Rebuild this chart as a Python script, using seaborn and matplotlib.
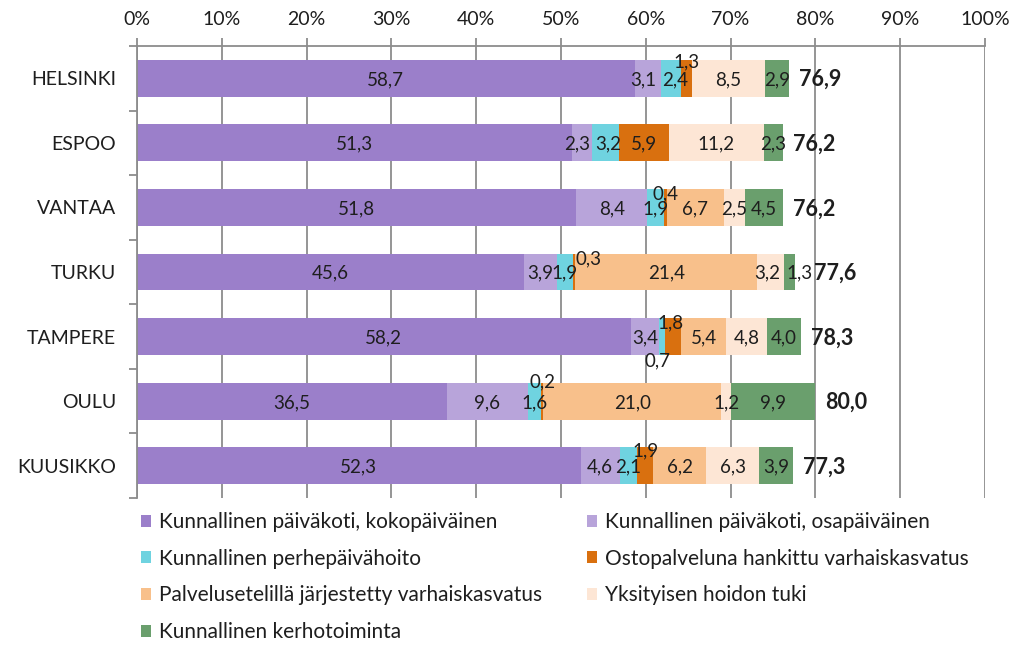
import numpy as np
import pandas as pd
import matplotlib
matplotlib.use("Agg")
import matplotlib.pyplot as plt
import seaborn as sns
from matplotlib.patches import Patch
from matplotlib.ticker import FixedLocator

# ---------------- data ----------------
cities = ["HELSINKI", "ESPOO", "VANTAA", "TURKU", "TAMPERE", "OULU", "KUUSIKKO"]
series_names = [
    "Kunnallinen päiväkoti, kokopäiväinen",
    "Kunnallinen päiväkoti, osapäiväinen",
    "Kunnallinen perhepäivähoito",
    "Ostopalveluna hankittu varhaiskasvatus",
    "Palvelusetelillä järjestetty varhaiskasvatus",
    "Yksityisen hoidon tuki",
    "Kunnallinen kerhotoiminta",
]
kokopaivainen = [58.7, 51.3, 51.8, 45.6, 58.2, 36.5, 52.3]
osapaivainen = [3.1, 2.3, 8.4, 3.9, 3.4, 9.6, 4.6]
perhepaivahoito = [2.4, 3.2, 1.9, 1.9, 0.7, 1.6, 2.1]
ostopalvelu = [1.3, 5.9, 0.4, 0.3, 1.8, 0.2, 1.9]
palveluseteli = [0.0, 0.0, 6.7, 21.4, 5.4, 21.0, 6.2]
yksityinen = [8.5, 11.2, 2.5, 3.2, 4.8, 1.2, 6.3]
kerhotoiminta = [2.9, 2.3, 4.5, 1.3, 4.0, 9.9, 3.9]
totals = [76.9, 76.2, 76.2, 77.6, 78.3, 80.0, 77.3]
tick_values = [0, 10, 20, 30, 40, 50, 60, 70, 80, 90, 100]
tick_labels = [f"{v}%" for v in tick_values]

series = [kokopaivainen, osapaivainen, perhepaivahoito, ostopalvelu,
          palveluseteli, yksityinen, kerhotoiminta]
colors = ["#9b7fca", "#b8a4da", "#6fd3e0", "#d9700f", "#f8c08b", "#fde6d5", "#6a9f6d"]

# label placement nudges: (city index, series index) -> (dx, dy) in data units
label_shift = {
    (0, 1): (-0.6, 0.0),
    (0, 2): (0.4, 0.0),
    (0, 3): (0.0, -0.27),
    (1, 1): (-0.6, 0.0),
    (1, 2): (0.4, 0.0),
    (2, 3): (0.0, -0.23),
    (3, 3): (1.7, -0.23),
    (3, 5): (-0.4, 0.0),
    (3, 6): (1.2, 0.0),
    (4, 3): (-0.3, -0.23),
    (4, 2): (-0.6, 0.35),
    (5, 3): (0.0, -0.32),
    (6, 3): (0.0, -0.25),
}
total_shift = {3: 1.0}

# ---------------- style ----------------
sns.set_style("white")
plt.rcParams["font.family"] = ["Lato", "DejaVu Sans"]
text_color = "#1e1e1e"
grid_color = "#8c8c8c"

fig = plt.figure(figsize=(10.24, 6.46), dpi=100)
ax = fig.add_axes([137 / 1024, 1 - 498 / 646, (985 - 137) / 1024, (498 - 46) / 646])

vals = np.array(series)            # shape (7 series, 7 cities)
cum = np.cumsum(vals, axis=0)

bar_w = 0.57
for k in range(len(series) - 1, -1, -1):
    df = pd.DataFrame({"city": cities, "value": cum[k]})
    sns.barplot(data=df, x="value", y="city", orient="h", color=colors[k],
                saturation=1, width=bar_w, linewidth=0, ax=ax, zorder=2)

ax.set_xlim(0, 100)
ax.set_ylim(len(cities) - 0.5, -0.5)

# grid
ax.set_axisbelow(True)
ax.xaxis.set_major_locator(FixedLocator(tick_values))
ax.set_xticklabels(tick_labels)
ax.grid(axis="x", color=grid_color, linewidth=1.3, zorder=0)
ax.grid(axis="y", visible=False)

ax.xaxis.tick_top()
ax.xaxis.set_label_position("top")
ax.tick_params(axis="x", which="major", length=6, width=1.3, color=grid_color,
               labelsize=14, labelcolor=text_color, pad=7, direction="out")
ax.yaxis.set_minor_locator(FixedLocator(np.arange(-0.5, len(cities), 1.0)))
ax.tick_params(axis="y", which="minor", length=6, width=1.3, color=grid_color, left=True)
ax.tick_params(axis="y", which="major", length=0, labelsize=14, labelcolor=text_color, pad=15)
ax.set_xlabel("")
ax.set_ylabel("")

for s in ["right", "bottom"]:
    ax.spines[s].set_visible(False)
for s in ["top", "left"]:
    ax.spines[s].set_visible(True)
    ax.spines[s].set_color(grid_color)
    ax.spines[s].set_linewidth(1.3)

# data labels
for i in range(len(cities)):
    for k in range(len(series)):
        v = vals[k, i]
        if v <= 0:
            continue
        start = cum[k, i] - v
        xc = start + v / 2
        dx, dy = label_shift.get((i, k), (0.0, 0.0))
        ax.text(xc + dx, i + dy + 0.02, f"{v:.1f}".replace(".", ","), ha="center", va="center",
                fontsize=13.5, color=text_color, zorder=5)
    ax.text(totals[i] + 1.2 + total_shift.get(i, 0.0), i + 0.02,
            f"{totals[i]:.1f}".replace(".", ","), ha="left",
            va="center", fontsize=15.5, fontweight="bold", color=text_color, zorder=5)

# legend (row-wise, two columns)
handles = [Patch(facecolor=c, edgecolor="none") for c in colors]
col1 = [0, 2, 4, 6]
col2 = [1, 3, 5]
leg_kw = dict(frameon=False, fontsize=15, handlelength=0.5, handleheight=0.5,
              handletextpad=0.35, labelspacing=0.8, borderaxespad=0, borderpad=0,
              labelcolor=text_color)
fig.legend([handles[j] for j in col1], [series_names[j] for j in col1],
           loc="upper left", bbox_to_anchor=(141 / 1024, 1 - 512 / 646), **leg_kw)
fig.legend([handles[j] for j in col2], [series_names[j] for j in col2],
           loc="upper left", bbox_to_anchor=(587 / 1024, 1 - 512 / 646), **leg_kw)

fig.savefig("out.png", dpi=100)
